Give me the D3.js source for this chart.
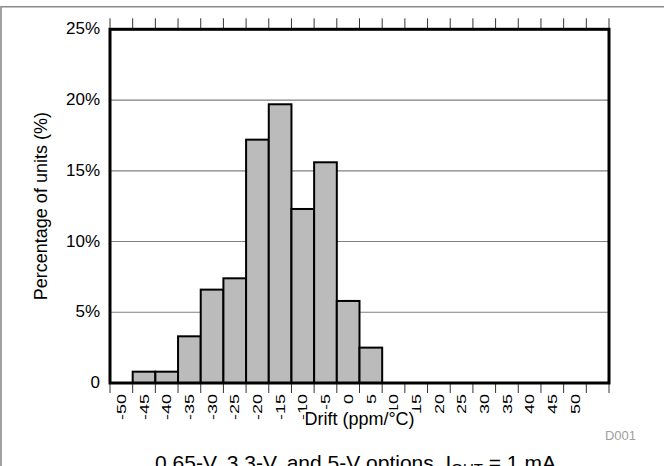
<!DOCTYPE html>
<html>
<head>
<meta charset="utf-8">
<script src="https://cdn.jsdelivr.net/npm/d3@7"></script>
<style>
  html, body { margin: 0; padding: 0; background: #fff; }
  svg { display: block; font-family: "Liberation Sans", Arial, sans-serif; }
</style>
</head>
<body>
<div id="chart"></div>
<script>
// Drift histogram (percentage of units per ppm/°C bin)
const driftBins = ["-50", "-45", "-40", "-35", "-30", "-25", "-20", "-15", "-10", "-5", "0",
    "5", "10", "15", "20", "25", "30", "35", "40", "45", "50", "55"];
const xTickLabels = ["-50", "-45", "-40", "-35", "-30", "-25", "-20", "-15", "-10", "-5", "0",
    "5", "10", "15", "20", "25", "30", "35", "40", "45", "50", ""];
const percentUnits = [0, 0.8, 0.8, 3.3, 6.6, 7.4, 17.2, 19.7, 12.3, 15.6, 5.8,
    2.5, 0, 0, 0, 0, 0, 0, 0, 0, 0, 0];
const yTicks = [0, 5, 10, 15, 20, 25];
const yTickLabels = ["0", "5%", "10%", "15%", "20%", "25%"];

const W = 664, H = 466;
const margin = { top: 29.3, right: 55, bottom: 83, left: 110 };
const width = W - margin.left - margin.right;
const height = H - margin.top - margin.bottom;

const svg = d3.select("#chart")
    .append("svg")
    .attr("width", W)
    .attr("height", H);

// outer page frame (cropped)
svg.append("path")
    .attr("d", `M1,${H} L1,6.7 L${W},6.7`)
    .attr("fill", "none")
    .attr("stroke", "#8a8a8a")
    .attr("stroke-width", 1.6);

const g = svg.append("g")
    .attr("transform", `translate(${margin.left},${margin.top})`);

const x = d3.scaleBand().domain(driftBins).range([0, width]).padding(0);
const y = d3.scaleLinear().domain([0, 25]).range([height, 0]);

// gridlines
g.selectAll(".grid")
    .data(yTicks.filter(d => d > 0 && d < 25))
    .enter()
    .append("line")
    .attr("class", "grid")
    .attr("x1", 0).attr("x2", width)
    .attr("y1", d => y(d)).attr("y2", d => y(d))
    .attr("stroke", "#808080")
    .attr("stroke-width", 1.2);

// bars
g.selectAll(".bar")
    .data(driftBins.map((b, i) => ({ bin: b, value: percentUnits[i] })).filter(d => d.value > 0))
    .enter()
    .append("rect")
    .attr("class", "bar")
    .attr("x", d => x(d.bin))
    .attr("width", x.bandwidth())
    .attr("y", d => y(d.value))
    .attr("height", d => y(0) - y(d.value))
    .attr("fill", "#bbbbbb")
    .attr("stroke", "#000")
    .attr("stroke-width", 2);

// tick marks on band edges, top and bottom
const edges = driftBins.map(b => x(b)).concat([width]);
g.selectAll(".tickTop")
    .data(edges)
    .enter()
    .append("line")
    .attr("x1", d => d).attr("x2", d => d)
    .attr("y1", 0).attr("y2", -11)
    .attr("stroke", "#333")
    .attr("stroke-width", 1);
g.selectAll(".tickBottom")
    .data(edges)
    .enter()
    .append("line")
    .attr("x1", d => d).attr("x2", d => d)
    .attr("y1", height).attr("y2", height + 10)
    .attr("stroke", "#333")
    .attr("stroke-width", 1);

// plot frame
g.append("rect")
    .attr("width", width)
    .attr("height", height)
    .attr("fill", "none")
    .attr("stroke", "#000")
    .attr("stroke-width", 3);

// y tick labels
g.selectAll(".ylab")
    .data(yTicks)
    .enter()
    .append("text")
    .attr("x", -10)
    .attr("y", d => y(d))
    .attr("dy", "0.3em")
    .attr("text-anchor", "end")
    .attr("font-size", "17px")
    .attr("fill", "#000")
    .text((d, i) => yTickLabels[i]);

// x tick labels, rotated
g.selectAll(".xlab")
    .data(driftBins)
    .enter()
    .append("text")
    .attr("transform", d => `translate(${x(d) + x.bandwidth() / 2},${height + 11}) rotate(-90) scale(1,0.72)`)
    .attr("dy", "0.36em")
    .attr("text-anchor", "end")
    .attr("font-size", "18px")
    .attr("fill", "#000")
    .text((d, i) => xTickLabels[i]);

// x title with white backing
const xTitle = g.append("text")
    .attr("x", width / 2)
    .attr("y", height + 42.4)
    .attr("text-anchor", "middle")
    .attr("font-size", "18px")
    .attr("fill", "#000")
    .text("Drift (ppm/°C)");
const bb = xTitle.node().getBBox();
g.insert("rect", () => xTitle.node())
    .attr("x", bb.x).attr("y", bb.y)
    .attr("width", bb.width).attr("height", bb.height)
    .attr("fill", "#fff");

// y title
g.append("text")
    .attr("transform", `translate(${47 - margin.left},${height / 2}) rotate(-90)`)
    .attr("text-anchor", "middle")
    .attr("font-size", "18px")
    .attr("fill", "#000")
    .text("Percentage of units (%)");

// figure id
svg.append("text")
    .attr("x", 636)
    .attr("y", 440)
    .attr("text-anchor", "end")
    .attr("font-size", "13px")
    .attr("fill", "#a0a0a0")
    .text("D001");

// caption (cropped at bottom edge)
const cap = svg.append("text")
    .attr("x", 355.5)
    .attr("y", 470)
    .attr("text-anchor", "middle")
    .attr("font-size", "21px")
    .attr("fill", "#000");
cap.append("tspan").text("0.65-V, 3.3-V, and 5-V options, I");
cap.append("tspan").attr("font-size", "15px").attr("dy", "4").text("OUT");
cap.append("tspan").attr("dy", "-4").text(" = 1 mA");
</script>
</body>
</html>
